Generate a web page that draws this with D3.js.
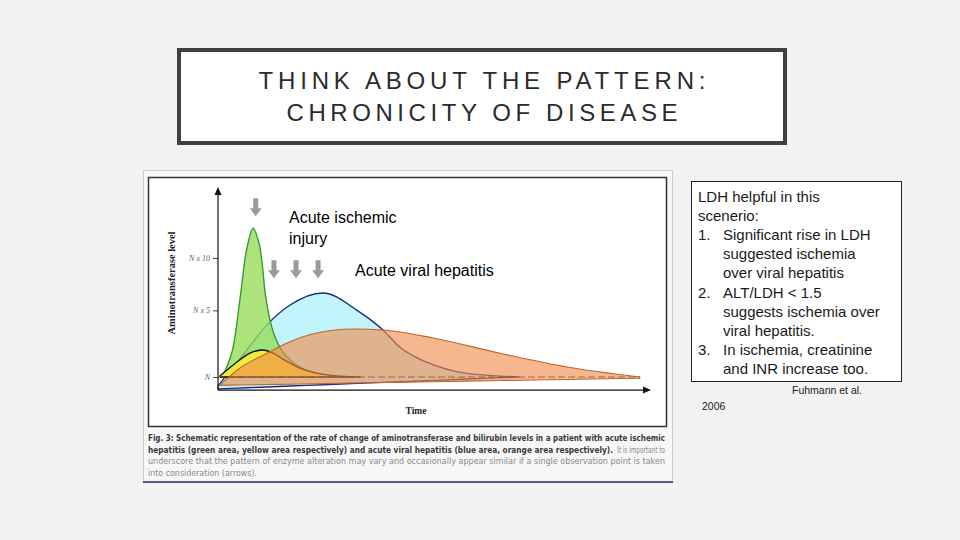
<!DOCTYPE html>
<html>
<head>
<meta charset="utf-8">
<script src="https://cdn.jsdelivr.net/npm/d3@7"></script>
<style>
  html, body { margin: 0; padding: 0; background: #f2f2f2; }
  svg { display: block; }
</style>
</head>
<body>
<div id="svgHolder"></div>
<script>
// ------------------------------
// data (schematic, N = 0 on the level axis)
// ------------------------------
var titleLines = ["THINK ABOUT THE PATTERN:", "CHRONICITY OF DISEASE"];

// time 0..100, level in "N units" above normal
var greenTimes  = [1, 3.3, 5.2, 6.8, 8.3, 9.7, 10.4, 11.3, 13, 15.3, 19.3, 27, 31];
var greenLevels = [0, 2.1, 6.6, 10.8, 12.5, 11.2, 9.6, 6.6, 3.8, 2.1, 0.84, 0.08, 0];

var yellowTimes  = [0.5, 4.5, 7.5, 10.6, 13, 15.3, 19.3, 25.7, 33.5];
var yellowLevels = [0.1, 1.26, 2.0, 2.27, 2.0, 1.5, 0.75, 0.17, 0];

var blueTimes  = [0, 6.8, 11.6, 17, 24.8, 32.8, 38.9, 42.9, 47, 51, 58.7, 71];
var blueLevels = [-0.75, 2.27, 4.4, 6.05, 7.06, 5.6, 3.95, 2.5, 1.6, 1.0, 0.3, 0];
var blueBase   = [-1.0, 0];

var orangeTimes  = [0.5, 5.2, 11.6, 16.3, 23.3, 31.8, 38.9, 50.7, 66.5, 82.3, 99.5];
var orangeLevels = [-0.67, 0.76, 2.0, 2.86, 3.7, 4.03, 3.95, 3.28, 2.0, 0.84, 0];
var orangeBase   = [-0.7, -0.1];

var yTickValues = [0, 5.6, 10];
var yTickLabels = ["N", "N x 5", "N x 10"];

var arrowTimes = [8.9, 13.2, 18.4, 23.6];
var arrowTips  = [13.5, 8.3, 8.3, 8.3];

var captionBold1 = "Fig. 3: Schematic representation of the rate of change of aminotransferase and bilirubin levels in a patient with acute ischemic";
var captionBold2 = "hepatitis (green area, yellow area respectively) and acute viral hepatitis (blue area, orange area respectively).";
var captionGray2 = "It is important to";
var captionGray3 = "underscore that the pattern of enzyme alteration may vary and occasionally appear similar if a single observation point is taken";
var captionGray4 = "into consideration (arrows).";

var noteLines = [
    { num: "", text: "LDH helpful in this" },
    { num: "", text: "scenerio:" },
    { num: "1.", text: "Significant rise in LDH" },
    { num: "", text: "suggested ischemia", indent: true },
    { num: "", text: "over viral hepatitis", indent: true },
    { num: "2.", text: "ALT/LDH < 1.5" },
    { num: "", text: "suggests ischemia over", indent: true },
    { num: "", text: "viral hepatitis.", indent: true },
    { num: "3.", text: "In ischemia, creatinine" },
    { num: "", text: "and INR increase too.", indent: true }
];

// ------------------------------
// canvas
// ------------------------------
var svg = d3.select('#svgHolder')
    .append('svg')
    .attr('width', 960)
    .attr('height', 540);

svg.append('rect')
    .attr('width', 960)
    .attr('height', 540)
    .attr('fill', '#f2f2f2');

// title box
svg.append('rect')
    .attr('x', 179)
    .attr('y', 50)
    .attr('width', 606)
    .attr('height', 93)
    .attr('fill', '#ffffff')
    .attr('stroke', '#404040')
    .attr('stroke-width', 4);

var titleWidths = [447, 391];
svg.selectAll('.title')
    .data(titleLines)
    .enter().append('text')
    .attr('class', 'title')
    .attr('x', 482)
    .attr('y', function (d, i) { return 89 + i * 32; })
    .attr('text-anchor', 'middle')
    .attr('textLength', function (d, i) { return titleWidths[i]; })
    .attr('lengthAdjust', 'spacing')
    .attr('font-family', 'Liberation Sans, Arial, sans-serif')
    .attr('font-size', 24)
    .attr('fill', '#2b2b2b')
    .text(function (d) { return d; });

// ------------------------------
// figure panel
// ------------------------------
svg.append('rect')
    .attr('x', 143.5)
    .attr('y', 170.5)
    .attr('width', 529)
    .attr('height', 312)
    .attr('fill', '#f7f7f7')
    .attr('stroke', '#d0d0d0');

svg.append('line')
    .attr('x1', 143).attr('x2', 673)
    .attr('y1', 482).attr('y2', 482)
    .attr('stroke', '#2a2f6a')
    .attr('stroke-width', 1.5);

svg.append('rect')
    .attr('x', 148.5)
    .attr('y', 177.5)
    .attr('width', 518)
    .attr('height', 249)
    .attr('fill', '#ffffff')
    .attr('stroke', '#333')
    .attr('stroke-width', 1.5);

var x = d3.scaleLinear()
    .domain([0, 100])
    .range([218, 642]);

var y = d3.scaleLinear()
    .domain([0, 10])
    .range([377, 258]);

var axisY = y(-1.1);

var main = svg.append('g').attr('class', 'main');

function zipPoints(times, levels) {
    return times.map(function (t, i) { return [t, levels[i]]; });
}

function baseScale(times, base) {
    return d3.scaleLinear()
        .domain([times[0], times[times.length - 1]])
        .range(base);
}

function drawArea(times, levels, base, fill, opacity, stroke, strokeW, curve) {
    var b = baseScale(times, base);
    var area = d3.area()
        .curve(curve || d3.curveMonotoneX)
        .x(function (d) { return x(d[0]); })
        .y0(function (d) { return y(b(d[0])); })
        .y1(function (d) { return y(d[1]); });
    main.append('path')
        .datum(zipPoints(times, levels))
        .attr('d', area)
        .attr('fill', fill)
        .attr('fill-opacity', opacity)
        .attr('stroke', stroke)
        .attr('stroke-width', strokeW)
        .attr('stroke-linejoin', 'round');
}

// blue = viral aminotransferase, green = ischemic aminotransferase
drawArea(blueTimes, blueLevels, blueBase, '#c2f4fb', 1, '#1f2a80', 1.4);
drawArea(greenTimes, greenLevels, [0, 0], '#97dd5a', 0.8, '#3c9a34', 1.4, d3.curveCatmullRom.alpha(0.5));
drawArea(yellowTimes, yellowLevels, [0, 0], '#f7ea3a', 0.9, '#111', 1.3);
drawArea(orangeTimes, orangeLevels, orangeBase, '#f08a48', 0.62, '#c0642c', 1.1);

// N reference line
main.append('line')
    .attr('x1', x(0)).attr('x2', x(99.5))
    .attr('y1', y(0)).attr('y2', y(0))
    .attr('stroke', '#7a4a2a')
    .attr('stroke-opacity', 0.7)
    .attr('stroke-dasharray', '7,3');

// axes
var yAxis = d3.axisLeft(y)
    .tickValues(yTickValues)
    .tickFormat(function (d, i) { return yTickLabels[i]; })
    .tickSize(5)
    .tickSizeOuter(0);

var yAxisG = main.append('g')
    .attr('transform', 'translate(' + x(0) + ',0)')
    .call(yAxis);

yAxisG.select('.domain').remove();
yAxisG.selectAll('.tick line').attr('stroke', '#444');
yAxisG.selectAll('.tick text')
    .attr('x', -8)
    .attr('font-family', 'Liberation Serif, serif')
    .attr('font-style', 'italic')
    .attr('font-size', 8)
    .attr('fill', '#666');

main.append('line')
    .attr('x1', x(0)).attr('x2', x(0))
    .attr('y1', axisY).attr('y2', 194)
    .attr('stroke', '#111')
    .attr('stroke-width', 1.2);

main.append('path')
    .attr('d', 'M' + x(0) + ',187 l-3.5,8 l7,0 z')
    .attr('fill', '#111');

main.append('line')
    .attr('x1', x(0)).attr('x2', 644)
    .attr('y1', axisY).attr('y2', axisY)
    .attr('stroke', '#111')
    .attr('stroke-width', 1.2);

main.append('path')
    .attr('d', 'M651,' + axisY + ' l-8,-3.5 l0,7 z')
    .attr('fill', '#111');

main.append('text')
    .attr('transform', 'translate(175,283) rotate(-90)')
    .attr('text-anchor', 'middle')
    .attr('textLength', 103)
    .attr('lengthAdjust', 'spacingAndGlyphs')
    .attr('font-family', 'Liberation Serif, serif')
    .attr('font-weight', 'bold')
    .attr('font-size', 9.5)
    .attr('fill', '#222')
    .text('Aminotransferase level');

main.append('text')
    .attr('x', 416)
    .attr('y', 414)
    .attr('text-anchor', 'middle')
    .attr('font-family', 'Liberation Serif, serif')
    .attr('font-weight', 'bold')
    .attr('font-size', 9.5)
    .attr('fill', '#222')
    .text('Time');

// observation arrows
main.selectAll('.arrow')
    .data(arrowTimes)
    .enter().append('path')
    .attr('class', 'arrow')
    .attr('d', function (d, i) {
        var cx = x(d), tip = y(arrowTips[i]);
        return 'M' + (cx - 2.5) + ',' + (tip - 18) +
            ' h5 v10 h3.5 L' + cx + ',' + tip +
            ' L' + (cx - 6) + ',' + (tip - 8) + ' h3.5 z';
    })
    .attr('fill', '#9a9a9a');

// annotations
var note = main.append('g')
    .attr('font-family', 'Liberation Sans, Arial, sans-serif')
    .attr('font-size', 16)
    .attr('fill', '#000');

note.append('text').attr('x', 289).attr('y', 223).text('Acute ischemic');
note.append('text').attr('x', 289).attr('y', 244).text('injury');
note.append('text').attr('x', 355).attr('y', 276).text('Acute viral hepatitis');

// caption
var cap = main.append('g')
    .attr('font-family', 'DejaVu Sans Condensed, DejaVu Sans, sans-serif')
    .attr('font-size', 8.3);

cap.append('text')
    .attr('x', 148).attr('y', 441)
    .attr('textLength', 517).attr('lengthAdjust', 'spacingAndGlyphs')
    .attr('font-weight', 'bold').attr('fill', '#3a3a3a')
    .text(captionBold1);

cap.append('text')
    .attr('x', 148).attr('y', 452.5)
    .attr('textLength', 465).attr('lengthAdjust', 'spacingAndGlyphs')
    .attr('font-weight', 'bold').attr('fill', '#3a3a3a')
    .text(captionBold2);

cap.append('text')
    .attr('x', 617).attr('y', 452.5)
    .attr('textLength', 48).attr('lengthAdjust', 'spacingAndGlyphs')
    .attr('fill', '#8a8a8a')
    .text(captionGray2);

cap.append('text')
    .attr('x', 148).attr('y', 464)
    .attr('textLength', 517).attr('lengthAdjust', 'spacingAndGlyphs')
    .attr('fill', '#8a8a8a')
    .text(captionGray3);

cap.append('text')
    .attr('x', 148).attr('y', 475.5)
    .attr('textLength', 109).attr('lengthAdjust', 'spacingAndGlyphs')
    .attr('fill', '#8a8a8a')
    .text(captionGray4);

// ------------------------------
// right-hand note box
// ------------------------------
svg.append('rect')
    .attr('x', 691.5)
    .attr('y', 181.5)
    .attr('width', 210)
    .attr('height', 200)
    .attr('fill', '#ffffff')
    .attr('stroke', '#222')
    .attr('stroke-width', 1);

var box = svg.append('g')
    .attr('font-family', 'Liberation Sans, Arial, sans-serif')
    .attr('font-size', 15)
    .attr('fill', '#1a1a1a');

box.selectAll('.num')
    .data(noteLines)
    .enter().append('text')
    .attr('x', 698)
    .attr('y', function (d, i) { return 202 + i * 19.1; })
    .text(function (d) { return d.num; });

box.selectAll('.line')
    .data(noteLines)
    .enter().append('text')
    .attr('x', function (d) { return (d.num || d.indent) ? 723 : 698; })
    .attr('y', function (d, i) { return 202 + i * 19.1; })
    .text(function (d) { return d.text; });

svg.append('text')
    .attr('x', 792).attr('y', 394)
    .attr('font-family', 'Liberation Sans, Arial, sans-serif')
    .attr('font-size', 10.5)
    .attr('fill', '#222')
    .text('Fuhmann et al.');

svg.append('text')
    .attr('x', 702).attr('y', 410)
    .attr('font-family', 'Liberation Sans, Arial, sans-serif')
    .attr('font-size', 10.5)
    .attr('fill', '#222')
    .text('2006');
</script>
</body>
</html>
